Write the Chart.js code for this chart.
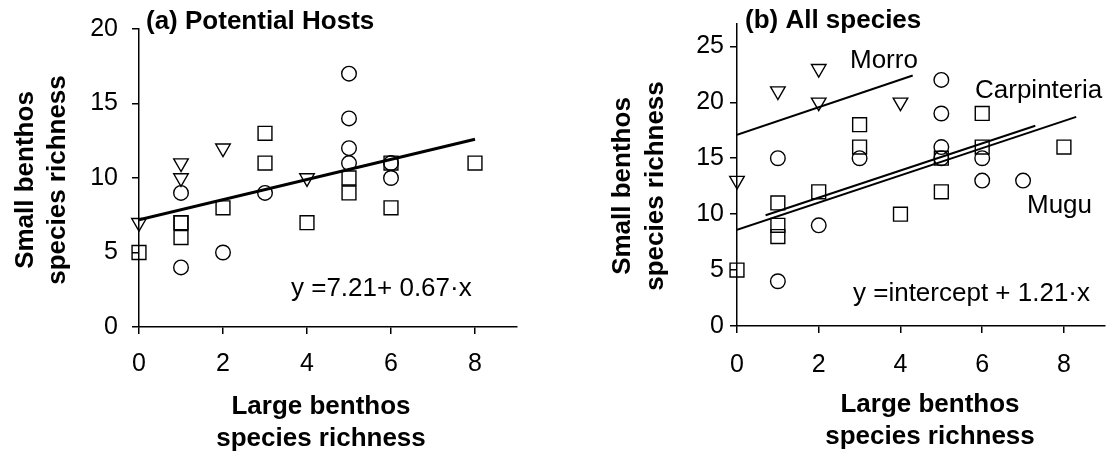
<!DOCTYPE html>
<html>
<head>
<meta charset="utf-8">
<script src="https://cdn.jsdelivr.net/npm/chart.js@4.4.1/dist/chart.umd.min.js"></script>
<style>
body{margin:0;background:#fff;overflow:hidden;width:1108px;height:456px;position:relative}
canvas{position:absolute;top:0}
#ca{left:0}
#cb{left:554px}
</style>
</head>
<body>
<canvas id="ca" width="554" height="456"></canvas>
<canvas id="cb" width="562" height="456"></canvas>
<script>
// (a) potential hosts : [large, small] richness per quadrat
var aCircles = [[1,9],[1,4],[2,5],[3,9],[5,17],[5,14],[5,12],[5,11],[6,11],[6,10]]
var aSquares = [[0,5],[1,7],[1,7],[1,6],[2,8],[3,13],[3,11],[4,7],[5,10],[5,9],[6,11],[6,8],[8,11]]
var aTriangles = [[0,7],[1,11],[1,10],[2,12],[4,10]]
var aFit = [[0,7.2],[8,12.6]]
var aXTicks = [0,2,4,6,8]
var aYTicks = [0,5,10,15,20]

// (b) all species
var bCircles = [[1,15],[1,4],[2,9],[3,15],[5,22],[5,19],[5,16],[5,15],[6,15],[6,13],[7,13]]
var bSquares = [[0,5],[1,11],[1,9],[1,8],[2,12],[3,18],[3,16],[4,10],[5,15],[5,12],[6,19],[6,16],[8,16]]
var bTriangles = [[0,13],[1,21],[2,23],[2,20],[4,20]]
var bMorro = [[0,17.1],[4.3,22.4]]
var bCarpinteria = [[0.7,9.9],[7.3,17.9]]
var bMugu = [[0,8.6],[8.3,18.7]]
var bXTicks = [0,2,4,6,8]
var bYTicks = [0,5,10,15,20,25]

Chart.defaults.font.family = '"Liberation Sans", Arial, sans-serif'
Chart.defaults.color = '#000'

function pts(a){
    return a.map(function(p){return {x:p[0],y:p[1]}})
}

function markers(data,style){
    var r = {circle:7.3, rect:9.8, triangle:8.4}[style]
    return {
        data:pts(data),
        pointStyle:style,
        pointRadius:r,
        pointRotation: style=='triangle' ? 180 : 0,
        borderColor:'#000',
        backgroundColor:'rgba(0,0,0,0)',
        borderWidth:1.4,
        clip:false
    }
}

function fitLine(data,w){
    return {data:pts(data), showLine:true, borderColor:'#000', borderWidth:w, pointRadius:0, fill:false}
}

function axes(xmax,ymax,xt,yt,yw,xh,xpad,ypad){
    var grid = {drawOnChartArea:false, tickLength:7, color:'#000', lineWidth:1.5}
    var border = {color:'#000', width:1.5}
    return {
        x:{
            type:'linear', min:0, max:xmax,
            afterBuildTicks:function(s){ s.ticks = xt.map(function(v){return {value:v}}) },
            afterFit:function(s){ s.height = xh },
            grid:grid, border:border,
            ticks:{padding:xpad, font:{size:25}, maxRotation:0, autoSkip:false}
        },
        y:{
            type:'linear', min:0, max:ymax,
            afterBuildTicks:function(s){ s.ticks = yt.map(function(v){return {value:v}}) },
            afterFit:function(s){ s.width = yw },
            grid:grid, border:border,
            ticks:{padding:ypad, font:{size:25}, autoSkip:false}
        }
    }
}

// texts drawn straight on the canvas
var notesPlugin = {
    id:'notes',
    afterDraw:function(chart){
        var ctx = chart.ctx
        chart.options.plugins.notes.items.forEach(function(n){
            ctx.save()
            ctx.fillStyle = '#000'
            ctx.font = (n.bold ? 'bold ' : '') + '26px "Liberation Sans", Arial, sans-serif'
            ctx.textAlign = n.align || 'left'
            ctx.textBaseline = 'alphabetic'
            ctx.translate(n.x,n.y)
            if (n.rot) ctx.rotate(-Math.PI/2)
            ctx.fillText(n.text,0,0)
            ctx.restore()
        })
    }
}

function makeChart(id,datasets,scales,pad,notes){
    return new Chart(document.getElementById(id),{
        type:'scatter',
        data:{datasets:datasets},
        options:{
            responsive:false,
            animation:false,
            events:[],
            layout:{padding:pad},
            scales:scales,
            plugins:{legend:{display:false}, tooltip:{enabled:false}, notes:{items:notes}}
        },
        plugins:[notesPlugin]
    })
}

makeChart('ca',
    [markers(aCircles,'circle'), markers(aSquares,'rect'), markers(aTriangles,'triangle'), fitLine(aFit,3)],
    axes(9,20,aXTicks,aYTicks,139,129,15,14),
    {top:25,right:37,left:0,bottom:0},
    [
        {text:'(a) Potential Hosts', x:146, y:29, bold:true},
        {text:'y =7.21+ 0.67·x', x:291, y:296},
        {text:'Small benthos', x:33, y:180, bold:true, rot:true, align:'center'},
        {text:'species richness', x:65, y:180, bold:true, rot:true, align:'center'},
        {text:'Large benthos', x:321, y:414, bold:true, align:'center'},
        {text:'species richness', x:321, y:446, bold:true, align:'center'}
    ])

makeChart('cb',
    [markers(bCircles,'circle'), markers(bSquares,'rect'), markers(bTriangles,'triangle'),
     fitLine(bMorro,2), fitLine(bCarpinteria,2), fitLine(bMugu,2)],
    axes(9,27,bXTicks,bYTicks,183,130,17,6),
    {top:24,right:0,left:0,bottom:0},
    [
        {text:'(b) All species', x:191, y:28, bold:true},
        {text:'Morro', x:296, y:68},
        {text:'Carpinteria', x:421, y:98},
        {text:'Mugu', x:473, y:213},
        {text:'y =intercept + 1.21·x', x:299, y:301},
        {text:'Small benthos', x:76, y:186, bold:true, rot:true, align:'center'},
        {text:'species richness', x:109, y:186, bold:true, rot:true, align:'center'},
        {text:'Large benthos', x:376, y:412, bold:true, align:'center'},
        {text:'species richness', x:376, y:444, bold:true, align:'center'}
    ])
</script>
</body>
</html>
